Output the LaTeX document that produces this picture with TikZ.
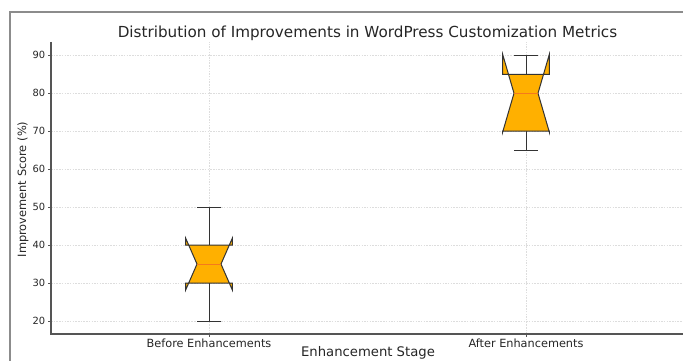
\documentclass[tikz,border=0pt]{standalone}
\usepackage{fontspec}
\setmainfont{DejaVu Sans}
\definecolor{framegray}{HTML}{8C8C8C}
\definecolor{spinegray}{HTML}{555555}
\definecolor{gridgray}{HTML}{DDDDDD}
\definecolor{textgray}{HTML}{262626}
\definecolor{boxfill}{HTML}{FFB000}
\definecolor{boxedge}{HTML}{333333}
\definecolor{medcol}{HTML}{F57A1C}
\newcommand\mybox[9]{% #1 x, #2 wlo, #3 q1, #4 nlo, #5 med, #6 nhi, #7 q3, #8 whi, #9 name
  \coordinate (#9) at (#1,#5);
  \draw[whisk] (#1,#3) -- (#1,#2);
  \draw[whisk] (#1-12,#2) -- (#1+12,#2);
  \draw[whisk] (#1,#7) -- (#1,#8);
  \draw[whisk] (#1-12,#8) -- (#1+12,#8);
  \draw[boxst] (#1-23.3,#3) -- (#1+23.3,#3) -- (#1+23.3,#4) -- (#1+12,#5) -- (#1+23.3,#6)
    -- (#1+23.3,#7) -- (#1-23.3,#7) -- (#1-23.3,#6) -- (#1-12,#5) -- (#1-23.3,#4) -- cycle;
  \draw[medst] (#1-12,#5) -- (#1+12,#5);
}
\begin{document}
\begin{tikzpicture}[x=1pt,y=1pt,
  txt/.style={text=textgray, inner sep=0pt},
  ticklabel/.style={txt, font=\fontsize{9.9}{11}\selectfont},
  xticklabel/.style={txt, font=\fontsize{11.3}{13}\selectfont},
  gridline/.style={gridgray, line width=0.5pt, dash pattern=on 1.5pt off 1.2pt},
  spine/.style={spinegray, line width=1.1pt},
  tickmark/.style={spinegray, line width=0.8pt},
  whisk/.style={boxedge, line width=1pt},
  boxst/.style={draw=boxedge, fill=boxfill, line width=1pt, line join=miter},
  medst/.style={medcol, line width=1pt}]
\useasboundingbox (0,0) rectangle (683,360);
\clip (0,0) rectangle (683,360);
\fill[white] (0,0) rectangle (683,360);
% outer frame
\draw[framegray, line width=2.6pt] (10,-10) -- (10,348) -- (700,348);
% title
\node[txt, font=\fontsize{15.2}{17}\selectfont] (title) at (367.5,327) {Distribution of Improvements in WordPress Customization Metrics};
\begin{scope}[y=3.796pt, yshift=-36.92pt]
  \foreach \v in {20,30,...,90} {
    \draw[gridline] (51,\v) -- (690,\v);
    \draw[tickmark] (51,\v) -- (47.5,\v);
    \node[ticklabel, anchor=east] (y\v) at (45.5,\v) {\v};
  }
  \draw[gridline] (209,16.58) -- (209,93.5);
  \draw[gridline] (526,16.58) -- (526,93.5);
  \draw[tickmark] (209,16.58) -- ++(0,-3.5pt);
  \draw[tickmark] (526,16.58) -- ++(0,-3.5pt);
  \coordinate (xb) at (209,16.58);
  \coordinate (xa) at (526,16.58);
  \mybox{209}{20}{30}{28.2}{35}{41.8}{40}{50}{before}
  \mybox{526}{65}{70}{69.8}{80}{90.2}{85}{90}{after}
  \draw[spine] (51,93.5) -- (51,16.58) -- (700,16.58);
\end{scope}
\node[xticklabel, anchor=north] (lb) at ([yshift=-4.5pt]xb) {Before Enhancements};
\node[xticklabel, anchor=north] (la) at ([yshift=-4.5pt]xa) {After Enhancements};
\node[txt, font=\fontsize{13.2}{15}\selectfont, anchor=base] (xlabel) at (368,3.8) {Enhancement Stage};
\node[txt, font=\fontsize{11.4}{13}\selectfont, rotate=90] (ylabel) at (23,170.5) {Improvement Score (\%)};
\end{tikzpicture}
\end{document}
